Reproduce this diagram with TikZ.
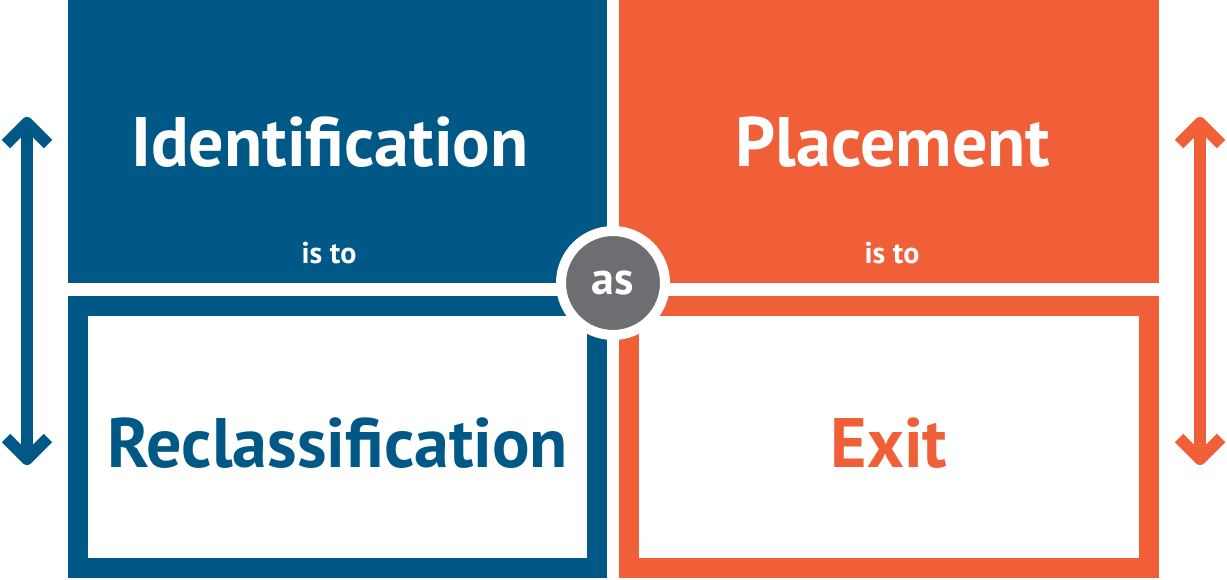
\documentclass[tikz,border=0pt]{standalone}
\usepackage{fontspec}
\setmainfont{PT Sans}
\definecolor{idblue}{RGB}{0,88,135}
\definecolor{idorange}{RGB}{241,95,57}
\definecolor{idgray}{RGB}{109,110,113}
\begin{document}
\begin{tikzpicture}[x=1pt,y=-1pt,
  big/.style={font=\fontsize{70}{70}\selectfont\bfseries,anchor=base,inner sep=0pt},
  small/.style={font=\fontsize{30}{30}\selectfont\bfseries,text=white,anchor=base,inner sep=0pt},
  frame/.style={line width=20pt},
  twoway/.style={line width=12pt,line join=round}]
\useasboundingbox (0,0) rectangle (1227,579);

\fill[idblue] (68,0) rectangle (607,283);
\fill[idorange] (619,0) rectangle (1159,283);
\draw[frame,idblue] (78,306) rectangle (597,568);
\draw[frame,idorange] (629,306) rectangle (1149,568);

\foreach \x/\c in {27/idblue,1200/idorange}
{
	\coordinate (up\x) at (\x,123);
	\coordinate (dn\x) at (\x,459);
	\draw[twoway,\c] (up\x) -- (dn\x);
	\draw[twoway,\c] (up\x) ++(-21,21) -- (up\x) -- ++(21,21);
	\draw[twoway,\c] (dn\x) ++(-21,-21) -- (dn\x) -- ++(21,-21);
}

\node[big,text=white] (ident) at (330,166) {Identification};
\node[big,text=white] (place) at (893,166) {Placement};
\node[small] (isto1) at (329,263) {is to};
\node[small] (isto2) at (892,263) {is to};
\node[big,text=idblue] (reclass) at (338,467) {Reclassification};
\node[big,text=idorange] (exit) at (889,467) {Exit};

\node[circle,fill=idgray,draw=white,line width=10pt,minimum size=104pt,inner sep=0pt,
  text=white,font=\fontsize{46}{46}\selectfont\bfseries] (as) at (613,283) {as};

    \end{tikzpicture}
\end{document}
